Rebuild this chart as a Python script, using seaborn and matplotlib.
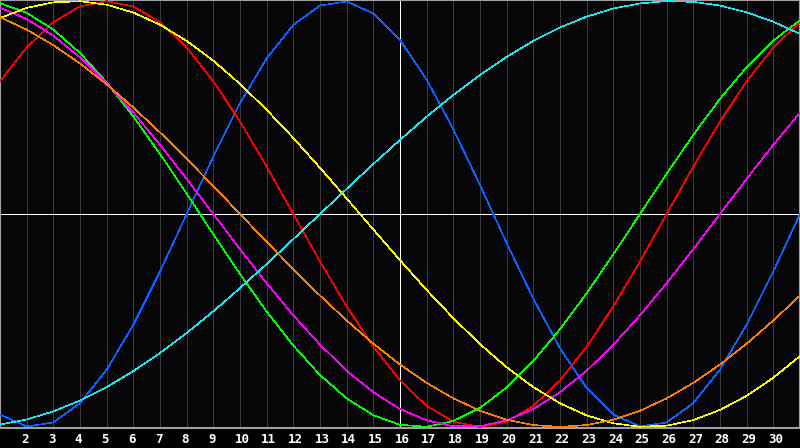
import pandas as pd
import matplotlib
matplotlib.use("Agg")
import matplotlib.pyplot as plt
import seaborn as sns

# dias do mes (eixo x)
dias = list(range(1, 32))
hoje = 16

# valores diarios de cada ciclo
fisico = [-0.942, -0.998, -0.979, -0.888, -0.731, -0.520, -0.270,
          0.0, 0.270, 0.520, 0.731, 0.888, 0.979, 0.998, 0.942, 0.817, 0.631, 0.398, 0.136,
          -0.136, -0.398, -0.631, -0.817, -0.942, -0.998, -0.979, -0.888, -0.731, -0.520, -0.270,
          0.0]
emocional = [0.623, 0.782, 0.901, 0.975, 1.0, 0.975, 0.901, 0.782, 0.623, 0.434, 0.223, 0.0,
             -0.223, -0.434, -0.623, -0.782, -0.901, -0.975, -1.0, -0.975, -0.901, -0.782,
             -0.623, -0.434, -0.223, 0.0, 0.223, 0.434, 0.623, 0.782, 0.901]
intelectual = [0.990, 0.945, 0.866, 0.756, 0.618, 0.458, 0.282, 0.095, -0.095, -0.282,
               -0.458, -0.618, -0.756, -0.866, -0.945, -0.990, -0.999, -0.972, -0.910,
               -0.815, -0.690, -0.541, -0.372, -0.189, 0.0, 0.189, 0.372, 0.541, 0.690,
               0.815, 0.910]
intuitivo = [0.969, 0.916, 0.837, 0.736, 0.614, 0.476, 0.325, 0.165, 0.0, -0.165, -0.325,
             -0.476, -0.614, -0.736, -0.837, -0.916, -0.969, -0.997, -0.997, -0.969, -0.916,
             -0.837, -0.736, -0.614, -0.476, -0.325, -0.165, 0.0, 0.165, 0.325, 0.476]
estetico = [0.920, 0.968, 0.994, 0.999, 0.983, 0.946, 0.889, 0.813, 0.720, 0.611, 0.489,
            0.357, 0.217, 0.073, -0.073, -0.217, -0.357, -0.489, -0.611, -0.720, -0.813,
            -0.889, -0.946, -0.983, -0.999, -0.994, -0.968, -0.920, -0.854, -0.769, -0.667]
consciencia = [0.924, 0.866, 0.793, 0.707, 0.609, 0.5, 0.383, 0.259, 0.131, 0.0, -0.131,
               -0.259, -0.383, -0.5, -0.609, -0.707, -0.793, -0.866, -0.924, -0.966, -0.991,
               -1.0, -0.991, -0.966, -0.924, -0.866, -0.793, -0.707, -0.609, -0.5, -0.383]
espiritual = [-0.989, -0.965, -0.927, -0.876, -0.813, -0.738, -0.653, -0.559, -0.457,
              -0.348, -0.235, -0.118, 0.0, 0.118, 0.235, 0.348, 0.457, 0.559, 0.653, 0.738,
              0.813, 0.876, 0.927, 0.965, 0.989, 1.0, 0.996, 0.979, 0.947, 0.903, 0.846]

ciclos = ["fisico", "emocional", "intelectual", "intuitivo", "estetico", "consciencia", "espiritual"]
cores = {"fisico": "#0a64ff", "emocional": "#ff0000", "intelectual": "#00ff00",
         "intuitivo": "#ff00ff", "estetico": "#ffff00", "consciencia": "#ff8000",
         "espiritual": "#1ee6f0"}

series = [fisico, emocional, intelectual, intuitivo, estetico, consciencia, espiritual]
df = pd.concat([pd.DataFrame({"dia": dias, "valor": s, "ciclo": c})
                for c, s in zip(ciclos, series)], ignore_index=True)

sns.set_theme(style="dark", rc={"figure.facecolor": "#000000", "axes.facecolor": "#060609"})
plt.rcParams["font.family"] = ["DejaVu Sans Mono", "DejaVu Sans"]

fig = plt.figure(figsize=(8, 4.48), dpi=100)
ax = fig.add_axes([0, 20 / 448, 1, 428 / 448])

# grade vertical
for d in dias[1:-1]:
    ax.axvline(d, color="#3a3a3a", lw=0.5, antialiased=False, zorder=1)

ax.axvline(hoje, color="#ffffff", lw=0.5, antialiased=False, zorder=2)
ax.axhline(0, color="#ffffff", lw=0.5, antialiased=False, zorder=2)

sns.lineplot(data=df, x="dia", y="valor", hue="ciclo", hue_order=ciclos, palette=cores,
             lw=0.45, legend=False, ax=ax, zorder=3)
for ln in ax.get_lines():
    ln.set_antialiased(False)

ax.set_xlim(1, 31)
ax.set_ylim(-1.005, 1.005)
ax.set_xticks([])
ax.set_yticks([])
ax.set_xlabel("")
ax.set_ylabel("")
for sp in ax.spines.values():
    sp.set_color("#a0a0a0")
    sp.set_linewidth(1.5)
    sp.set_visible(True)

for d in dias[1:-1]:
    ax.text(d - 0.2, -0.027, str(d), transform=ax.get_xaxis_transform(),
            ha="left", va="center", color="white", fontsize=9, fontweight="bold")

fig.savefig("out.png", dpi=100, facecolor="#000000")
